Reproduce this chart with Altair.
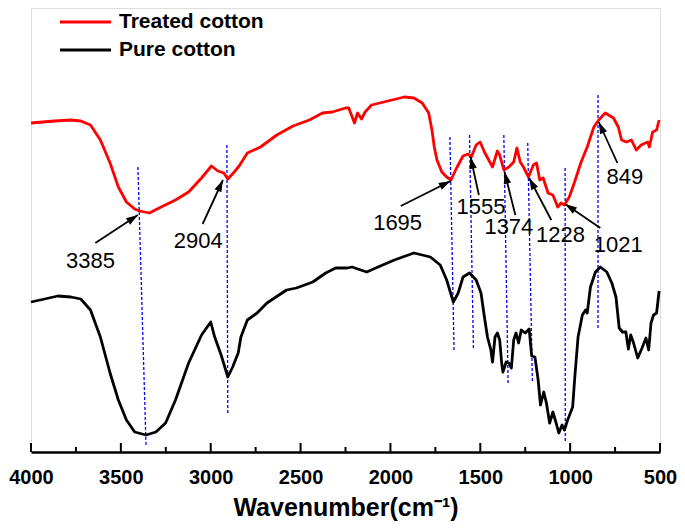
import math
import altair as alt
import pandas as pd

# ---------------- data ----------------
series_names = ["Treated cotton", "Pure cotton"]
series_colors = ["#ff0000", "#000000"]

wn_treated = [4000, 3869, 3778, 3723, 3669, 3614, 3560, 3514, 3469, 3423,
              3396, 3341, 3287, 3196, 3123, 3051, 2996, 2960, 2927, 2905,
              2869, 2842, 2796, 2723, 2632, 2542, 2451, 2378, 2323, 2250,
              2232, 2200, 2183, 2161, 2141, 2105, 2014, 1923, 1869, 1823,
              1787, 1769, 1756, 1741, 1714, 1687, 1663, 1632, 1596, 1568,
              1550, 1523, 1501, 1477, 1432, 1405, 1392, 1369, 1341, 1314,
              1296, 1278, 1260, 1232, 1205, 1187, 1169, 1150, 1123, 1096,
              1069, 1050, 1032, 1005, 977, 941, 905, 868, 841, 805,
              759, 732, 714, 686, 659, 632, 605, 568, 559, 541,
              519, 505]
t_treated = [329, 331, 332, 331, 327, 312, 289, 265, 250, 243,
             241, 239, 244, 252, 260, 274, 286, 281, 279, 273,
             280, 286, 299, 305, 317, 326, 332, 339, 340, 344,
             344, 329, 339, 333, 340, 347, 351, 355, 354, 349,
             339, 322, 305, 292, 280, 275, 272, 284, 296, 298,
             295, 307, 310, 300, 285, 301, 297, 282, 285, 290,
             304, 290, 285, 275, 287, 289, 272, 274, 259, 257,
             245, 249, 247, 255, 269, 289, 305, 325, 332, 339,
             334, 325, 312, 310, 312, 302, 307, 310, 305, 320,
             322, 332]

wn_pure = [4000, 3924, 3851, 3778, 3723, 3669, 3614, 3560, 3514, 3469,
           3423, 3360, 3305, 3251, 3196, 3123, 3051, 3000, 2978, 2942,
           2905, 2878, 2847, 2832, 2796, 2742, 2687, 2578, 2523, 2432,
           2360, 2305, 2241, 2214, 2132, 2069, 1978, 1869, 1778, 1723,
           1687, 1650, 1623, 1596, 1560, 1523, 1496, 1477, 1460, 1441,
           1432, 1418, 1405, 1392, 1381, 1374, 1356, 1341, 1327, 1314,
           1301, 1287, 1272, 1250, 1228, 1214, 1196, 1178, 1165, 1147,
           1132, 1114, 1096, 1078, 1063, 1045, 1032, 1014, 986, 974,
           956, 932, 914, 905, 887, 859, 832, 796, 768, 745,
           727, 709, 690, 676, 663, 647, 624, 600, 578, 563,
           550, 536, 519, 505]
t_pure = [150, 153, 156, 155, 153, 142, 115, 79, 52, 32,
          20, 17, 20, 29, 52, 89, 117, 130, 115, 97,
          75, 85, 99, 115, 132, 139, 149, 162, 164, 170,
          179, 184, 184, 185, 180, 185, 192, 199, 195, 187,
          172, 150, 159, 175, 179, 172, 159, 135, 115, 102,
          90, 115, 119, 112, 89, 80, 90, 89, 84, 112,
          119, 109, 122, 119, 123, 96, 95, 72, 47, 60,
          49, 29, 40, 29, 19, 27, 22, 32, 45, 75,
          115, 137, 142, 139, 165, 180, 185, 180, 169, 155,
          124, 120, 120, 103, 117, 109, 94, 104, 114, 102,
          129, 137, 139, 161]

peak_labels = ["3385", "2904", "1695", "1555", "1374", "1228", "1021", "849"]
label_wn = [3669, 3069, 1960, 1496, 1341, 1054, 732, 695]
label_t = [191, 211, 229, 245, 225, 217, 207, 275]
arrow_from_wn = [3642, 3045, 1942, 1508, 1305, 1105, 832, 737]
arrow_from_t = [209, 228, 246, 257, 237, 232, 224, 289]
arrow_to_wn = [3405, 2932, 1665, 1554, 1365, 1228, 1028, 841]
arrow_to_t = [237, 272, 271, 295, 280, 274, 248, 330]
guide_top_wn = [3405, 2910, 1669, 1560, 1369, 1236, 1028, 845]
guide_top_t = [285, 307, 315, 317, 317, 309, 284, 357]
guide_bot_wn = [3360, 2905, 1646, 1538, 1345, 1210, 1027, 845]
guide_bot_t = [7, 37, 102, 103, 67, 70, 10, 122]

major_ticks = [4000, 3500, 3000, 2500, 2000, 1500, 1000, 500]
minor_ticks = [3750, 3250, 2750, 2250, 1750, 1250, 750]

# ---------------- layout ----------------
W, H = 629, 444
X_DOMAIN = [500, 4000]
Y_DOMAIN = [0, 444]
FONT = "Liberation Sans"

xscale = alt.Scale(domain=X_DOMAIN, reverse=True, nice=False, zero=False)
yscale = alt.Scale(domain=Y_DOMAIN, nice=False, zero=False)
xaxis = alt.Axis(values=major_ticks, format="d", ticks=False, tickSize=0,
                 grid=False, labelFlush=False, domainColor="black",
                 domainWidth=2.5, labelFontSize=20, labelFontWeight="bold",
                 labelColor="black", labelPadding=15, labelFont=FONT,
                 titleFont=FONT, titleFontSize=25, titleFontWeight="bold",
                 titleColor="black", titlePadding=8)

def X(field="wn"):
    return alt.X(f"{field}:Q", scale=xscale, axis=xaxis,
                 title="Wavenumber(cm⁻¹)")

def Y(field="T"):
    return alt.Y(f"{field}:Q", scale=yscale, axis=None)

df_lines = pd.concat([
    pd.DataFrame({"wn": wn_treated, "T": t_treated, "series": series_names[0]}),
    pd.DataFrame({"wn": wn_pure, "T": t_pure, "series": series_names[1]}),
])

lines = alt.Chart(df_lines).mark_line(strokeWidth=2.8, strokeJoin="round").encode(
    x=X(), y=Y(),
    color=alt.Color("series:N", scale=alt.Scale(domain=series_names, range=series_colors), legend=None),
)

# guides (dashed blue)
df_guides = pd.DataFrame({"wn": guide_top_wn, "T": guide_top_t,
                          "wn2": guide_bot_wn, "T2": guide_bot_t})
guides = alt.Chart(df_guides).mark_rule(color="#0000ff", strokeWidth=1.3, strokeDash=[3, 2]).encode(
    x=X(), y=Y(), x2="wn2:Q", y2="T2:Q")

# axis ticks pointing inward
df_major = pd.DataFrame({"wn": major_ticks})
df_minor = pd.DataFrame({"wn": minor_ticks})
ticks_major = alt.Chart(df_major).mark_rule(color="black", strokeWidth=2).encode(
    x=X(), y=alt.value(H), y2=alt.value(H - 9))
ticks_minor = alt.Chart(df_minor).mark_rule(color="black", strokeWidth=2).encode(
    x=X(), y=alt.value(H), y2=alt.value(H - 5))

# arrows
px_per_wn = W / (X_DOMAIN[1] - X_DOMAIN[0])
px_per_t = H / (Y_DOMAIN[1] - Y_DOMAIN[0])
angles = []
for fw, ft, tw, tt in zip(arrow_from_wn, arrow_from_t, arrow_to_wn, arrow_to_t):
    dx = -(tw - fw) * px_per_wn
    dy = -(tt - ft) * px_per_t
    angles.append(math.degrees(math.atan2(dx, -dy)) % 360)

df_arrows = pd.DataFrame({"wn": arrow_from_wn, "T": arrow_from_t,
                          "wn2": arrow_to_wn, "T2": arrow_to_t})
arrow_lines = alt.Chart(df_arrows).mark_rule(color="black", strokeWidth=1.8).encode(
    x=X(), y=Y(), x2="wn2:Q", y2="T2:Q")

df_heads = pd.DataFrame({"wn": arrow_to_wn, "T": arrow_to_t, "ang": angles})
heads = alt.Chart(df_heads).mark_point(
    shape="M0,0L-0.32,1L0.32,1Z", filled=True, size=560, color="black",
    opacity=1, strokeWidth=0).encode(
    x=X(), y=Y(), angle=alt.Angle("ang:Q", scale=None))

df_text = pd.DataFrame({"wn": label_wn, "T": label_t, "label": peak_labels})
texts = alt.Chart(df_text).mark_text(font=FONT, fontSize=22, color="black",
                                     align="center", baseline="middle").encode(
    x=X(), y=Y(), text="label:N")

# legend drawn by hand
legend_layers = []
for i, (name, col) in enumerate(zip(series_names, series_colors)):
    d = pd.DataFrame({"name": [name]})
    ypos = 14 + 28 * i
    legend_layers.append(alt.Chart(d).mark_rule(color=col, strokeWidth=3).encode(
        x=alt.value(29), x2=alt.value(80), y=alt.value(ypos)))
    legend_layers.append(alt.Chart(d).mark_text(font=FONT, fontSize=21, fontWeight="bold",
                                                color="black", align="left",
                                                baseline="middle").encode(
        x=alt.value(88), y=alt.value(ypos), text="name:N"))

chart = alt.layer(guides, lines, ticks_minor, ticks_major, arrow_lines, heads, texts,
                  *legend_layers).properties(
    width=W, height=H,
    autosize=alt.AutoSizeParams(type="none"),
    padding={"left": 23, "top": 0, "right": 17, "bottom": 71},
).configure_view(strokeWidth=0).configure(font=FONT)

chart.save("out.html", embed_options={"renderer": "svg", "actions": False})
